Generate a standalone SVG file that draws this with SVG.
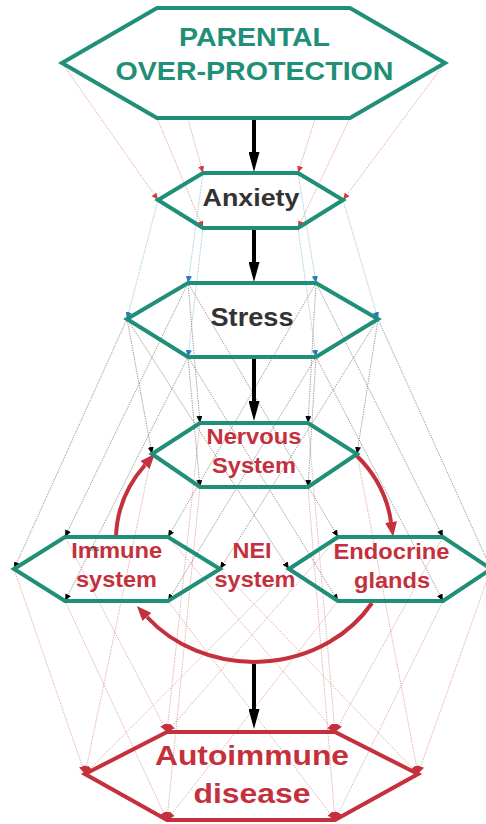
<svg xmlns="http://www.w3.org/2000/svg" width="486" height="824" viewBox="0 0 486 824">
<style>
.hex{stroke-width:4;stroke-linejoin:miter}
.teal{stroke:#1f8f78;fill:none}
.tealw{stroke:#1f8f78;fill:#fff}
.redh{stroke:#c4303c;fill:none}
.t{font-family:"Liberation Sans",Arial,sans-serif;font-weight:bold;text-anchor:middle}
.tt{fill:#1f8f78}
.td{fill:#333333}
.tr{fill:#c4303c}
.d{stroke-width:0.7;stroke-dasharray:1.3 1.1;fill:none}
.dr{stroke:#de7a7a;marker-end:url(#mr)}
.db{stroke:#6fb4cf;marker-end:url(#mb)}
.dk{stroke:#6a6a6a;marker-end:url(#mk)}
.dr2{stroke:#d98585;marker-end:url(#mr2)}
.thick{stroke:#000;stroke-width:4;fill:none;marker-end:url(#ma)}
.arc{stroke:#c4303c;stroke-width:4;fill:none;marker-end:url(#marc)}
</style>
<defs>
<marker id="mr" markerUnits="userSpaceOnUse" markerWidth="7" markerHeight="6" refX="7" refY="3" orient="auto"><path d="M0,0 L7,3 L0,6 z" fill="#d63a3a"/></marker>
<marker id="mr2" markerUnits="userSpaceOnUse" markerWidth="8" markerHeight="7" refX="8" refY="3.5" orient="auto"><path d="M0,0 L8,3.5 L0,7 z" fill="#c4303c"/></marker>
<marker id="mb" markerUnits="userSpaceOnUse" markerWidth="7" markerHeight="6" refX="7" refY="3" orient="auto"><path d="M0,0 L7,3 L0,6 z" fill="#1f78c8"/></marker>
<marker id="mk" markerUnits="userSpaceOnUse" markerWidth="7" markerHeight="6" refX="7" refY="3" orient="auto"><path d="M0,0 L7,3 L0,6 z" fill="#000"/></marker>
<marker id="ma" markerUnits="userSpaceOnUse" markerWidth="20" markerHeight="11" refX="0" refY="5.5" orient="auto"><path d="M0,0 L20,5.5 L0,11 z" fill="#000"/></marker>
<marker id="marc" markerUnits="userSpaceOnUse" markerWidth="15" markerHeight="12" refX="0" refY="6" orient="auto"><path d="M0,0 L15,6 L0,12 z" fill="#c4303c"/></marker>
</defs>
<rect width="486" height="824" fill="#fff"/>
<g id="connectors">
<g class="d dr">
<line x1="62" y1="63" x2="158" y2="200"/>
<line x1="157" y1="8" x2="203" y2="173"/>
<line x1="350" y1="8" x2="298" y2="173"/>
<line x1="445" y1="63" x2="343" y2="200"/>
<line x1="350" y1="118" x2="298" y2="228"/>
<line x1="157" y1="118" x2="203" y2="228"/>
</g>
<g class="d db">
<line x1="158" y1="200" x2="127" y2="319"/>
<line x1="203" y1="173" x2="188" y2="283"/>
<line x1="298" y1="173" x2="316" y2="283"/>
<line x1="343" y1="200" x2="378" y2="319"/>
<line x1="298" y1="228" x2="316" y2="357"/>
<line x1="203" y1="228" x2="188" y2="357"/>
</g>
<g class="d dk">
<line x1="127" y1="319" x2="152" y2="454"/>
<line x1="188" y1="283" x2="200" y2="423"/>
<line x1="316" y1="283" x2="308" y2="423"/>
<line x1="378" y1="319" x2="357" y2="454"/>
<line x1="316" y1="357" x2="308" y2="487"/>
<line x1="188" y1="357" x2="200" y2="487"/>
<line x1="127" y1="319" x2="14" y2="569"/>
<line x1="188" y1="283" x2="65" y2="537"/>
<line x1="316" y1="283" x2="168" y2="537"/>
<line x1="378" y1="319" x2="220" y2="569"/>
<line x1="316" y1="357" x2="168" y2="601"/>
<line x1="188" y1="357" x2="65" y2="601"/>
<line x1="127" y1="319" x2="289" y2="569"/>
<line x1="188" y1="283" x2="338" y2="537"/>
<line x1="316" y1="283" x2="443" y2="537"/>
<line x1="378" y1="319" x2="491" y2="569"/>
<line x1="316" y1="357" x2="443" y2="601"/>
<line x1="188" y1="357" x2="338" y2="601"/>
</g>
<g class="d dr2">
<line x1="152" y1="454" x2="85" y2="774"/>
<line x1="200" y1="423" x2="167" y2="732"/>
<line x1="308" y1="423" x2="335" y2="732"/>
<line x1="357" y1="454" x2="418" y2="774"/>
<line x1="308" y1="487" x2="335" y2="820"/>
<line x1="200" y1="487" x2="167" y2="820"/>
<line x1="14" y1="569" x2="85" y2="774"/>
<line x1="65" y1="537" x2="167" y2="732"/>
<line x1="168" y1="537" x2="335" y2="732"/>
<line x1="220" y1="569" x2="418" y2="774"/>
<line x1="168" y1="601" x2="335" y2="820"/>
<line x1="65" y1="601" x2="167" y2="820"/>
<line x1="289" y1="569" x2="85" y2="774"/>
<line x1="338" y1="537" x2="167" y2="732"/>
<line x1="443" y1="537" x2="335" y2="732"/>
<line x1="491" y1="569" x2="418" y2="774"/>
<line x1="443" y1="601" x2="335" y2="820"/>
<line x1="338" y1="601" x2="167" y2="820"/>
</g>
<line class="thick" x1="254" y1="120" x2="254" y2="152"/>
<line class="thick" x1="254" y1="230" x2="254" y2="262"/>
<line class="thick" x1="254" y1="359" x2="254" y2="401"/>
<line class="thick" x1="254" y1="664" x2="254" y2="709"/>
<path class="arc" d="M356,455 A138,122 0 0 1 391,522"/>
<path class="arc" d="M372,603 A138,122 0 0 1 147,617"/>
<path class="arc" d="M116,537 A138,122 0 0 1 145,465"/>
</g>
<g id="parental">
<polygon class="hex tealw" points="62,63 157,8 350,8 445,63 350,118 157,118"/>
<text class="t tt" x="254.5" y="46" font-size="26.5" textLength="151" lengthAdjust="spacingAndGlyphs">PARENTAL</text>
<text class="t tt" x="254.5" y="80" font-size="26.5" textLength="278" lengthAdjust="spacingAndGlyphs">OVER-PROTECTION</text>
</g>
<g id="anxiety">
<polygon class="hex teal" points="158,200 203,173 298,173 343,200 298,228 203,228"/>
<text class="t td" x="251" y="206" font-size="24.5" textLength="97" lengthAdjust="spacingAndGlyphs">Anxiety</text>
</g>
<g id="stress">
<polygon class="hex teal" points="127,319 188,283 316,283 378,319 316,357 188,357"/>
<text class="t td" x="252" y="326" font-size="26" textLength="83" lengthAdjust="spacingAndGlyphs">Stress</text>
</g>
<g id="nervous">
<polygon class="hex teal" points="152,454 200,423 308,423 357,454 308,487 200,487"/>
<text class="t tr" x="254" y="444" font-size="22.5" textLength="95" lengthAdjust="spacingAndGlyphs">Nervous</text>
<text class="t tr" x="254" y="473" font-size="22.5" textLength="84" lengthAdjust="spacingAndGlyphs">System</text>
</g>
<g id="immune">
<polygon class="hex teal" points="14,569 65,537 168,537 220,569 168,601 65,601"/>
<text class="t tr" x="116.7" y="558" font-size="22" textLength="91" lengthAdjust="spacingAndGlyphs">Immune</text>
<text class="t tr" x="116.5" y="587" font-size="22" textLength="81" lengthAdjust="spacingAndGlyphs">system</text>
<text x="90" y="551" font-family="Liberation Sans, Arial, sans-serif" font-size="7" fill="#444">ms</text>
</g>
<g id="nei">
<text class="t tr" x="252" y="558" font-size="22" textLength="39" lengthAdjust="spacingAndGlyphs">NEI</text>
<text class="t tr" x="255" y="587" font-size="22" textLength="81" lengthAdjust="spacingAndGlyphs">system</text>
</g>
<g id="endocrine">
<polygon class="hex teal" points="289,569 338,537 443,537 491,569 443,601 338,601"/>
<text class="t tr" x="391.5" y="559" font-size="22" textLength="116" lengthAdjust="spacingAndGlyphs">Endocrine</text>
<text class="t tr" x="392" y="588" font-size="22" textLength="76" lengthAdjust="spacingAndGlyphs">glands</text>
</g>
<g id="autoimmune">
<polygon class="hex redh" points="85,774 167,732 335,732 418,774 335,820 167,820"/>
<text class="t tr" x="252" y="765" font-size="28" textLength="194" lengthAdjust="spacingAndGlyphs">Autoimmune</text>
<text class="t tr" x="252" y="803" font-size="28" textLength="117" lengthAdjust="spacingAndGlyphs">disease</text>
</g>
</svg>
